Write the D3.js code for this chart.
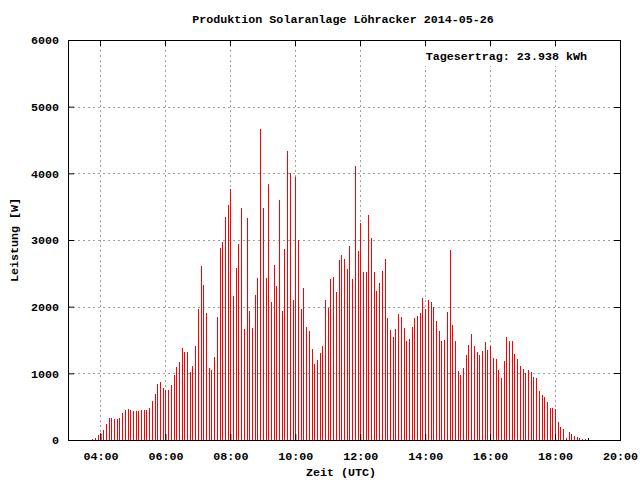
<!DOCTYPE html>
<html><head><meta charset="utf-8">
<script src="https://cdn.jsdelivr.net/npm/d3@7"></script>
<style>
body{margin:0;background:#fff;}
text{font-family:"Liberation Mono","DejaVu Sans Mono",monospace;font-weight:bold;font-size:11.7px;fill:#000;}
</style></head>
<body>
<svg id="chart" width="640" height="480"></svg>
<script>
const title = "Produktion Solaranlage Löhracker 2014-05-26";
const yLabel = "Leistung [W]";
const xLabel = "Zeit (UTC)";
const yieldLabel = "Tagesertrag: 23.938 kWh";
const xTicks = ["04:00","06:00","08:00","10:00","12:00","14:00","16:00","18:00","20:00"];
const yTicks = [0,1000,2000,3000,4000,5000,6000];
const times = [
"03:45","03:50","03:55",
"04:00","04:05","04:10","04:15","04:20","04:25","04:30","04:35","04:40","04:45","04:50","04:55",
"05:00","05:05","05:10","05:15","05:20","05:25","05:30","05:35","05:40","05:45","05:50","05:55",
"06:00","06:05","06:10","06:15","06:20","06:25","06:30","06:35","06:40","06:45","06:50","06:55",
"07:00","07:05","07:10","07:15","07:20","07:25","07:30","07:35","07:40","07:45","07:50","07:55",
"08:00","08:05","08:10","08:15","08:20","08:25","08:30","08:35","08:40","08:45","08:50","08:55",
"09:00","09:05","09:10","09:15","09:20","09:25","09:30","09:35","09:40","09:45","09:50","09:55",
"10:00","10:05","10:10","10:15","10:20","10:25","10:30","10:35","10:40","10:45","10:50","10:55",
"11:00","11:05","11:10","11:15","11:20","11:25","11:30","11:35","11:40","11:45","11:50","11:55",
"12:00","12:05","12:10","12:15","12:20","12:25","12:30","12:35","12:40","12:45","12:50","12:55",
"13:00","13:05","13:10","13:15","13:20","13:25","13:30","13:35","13:40","13:45","13:50","13:55",
"14:00","14:05","14:10","14:15","14:20","14:25","14:30","14:35","14:40","14:45","14:50","14:55",
"15:00","15:05","15:10","15:15","15:20","15:25","15:30","15:35","15:40","15:45","15:50","15:55",
"16:00","16:05","16:10","16:15","16:20","16:25","16:30","16:35","16:40","16:45","16:50","16:55",
"17:00","17:05","17:10","17:15","17:20","17:25","17:30","17:35","17:40","17:45","17:50","17:55",
"18:00","18:05","18:10","18:15","18:20","18:25","18:30","18:35","18:40","18:45","18:50","18:55",
"19:00"];
const power = [
15,35,75,
105,150,240,330,330,315,315,330,405,450,465,450,
435,435,435,455,455,455,485,590,695,845,875,785,
755,755,830,980,1100,1175,1385,1325,1325,1020,1110,1410,
1965,2615,2325,1905,1080,1050,1245,1845,2880,2970,3345,3525,
3765,2160,2580,2940,3480,1665,3330,1935,1680,2175,2430,4665,
3480,2430,3840,2070,2625,2310,3600,1935,2865,4335,4005,2100,
3945,3000,1965,2280,1695,1635,1365,1140,1200,1305,1410,2100,
1980,2415,2445,2220,2700,2775,2715,2565,2910,2415,4110,2835,
3255,2520,2520,3375,3030,2520,2235,2355,2535,2715,1830,1650,
1545,1665,1890,1845,1680,1485,1515,1695,1830,1860,1905,2130,
1965,2100,2070,1995,1785,1635,1485,1500,1920,2850,1725,1485,
1035,975,1080,1275,1425,1590,1410,1320,1275,1335,1470,1350,
1410,1230,1215,1050,930,1185,1545,1485,1485,1290,1215,1110,
1065,1005,1050,1020,945,930,735,675,645,570,480,480,
465,270,195,165,30,120,90,60,45,30,15,15,
30];

const parse = d3.timeParse("%H:%M");
const fmt = d3.timeFormat("%H:%M");
const data = times.map((t,i)=>({t:parse(t), v:power[i]}));

const svg = d3.select("#chart");
const L=68, R=620, T=40, B=440;
const x = d3.scaleTime().domain([parse("03:00"), parse("20:00")]).range([L,R]);
const y = d3.scaleLinear().domain([0,6000]).range([B,T]);

// grid
const grid = svg.append("g").attr("stroke","#a0a0a0").attr("stroke-width",1).attr("stroke-dasharray","2,3");
xTicks.map(parse).filter(t=>x(t)<R-1).forEach(t=>{
  grid.append("line").attr("x1",Math.round(x(t))+0.5).attr("x2",Math.round(x(t))+0.5).attr("y1",T).attr("y2",B);
});
yTicks.filter(v=>v>0&&v<6000).forEach(v=>{
  grid.append("line").attr("x1",L).attr("x2",R).attr("y1",Math.round(y(v))+0.5).attr("y2",Math.round(y(v))+0.5);
});

// yield label background
svg.append("rect").attr("x",421).attr("y",48).attr("width",170).attr("height",18).attr("fill","#fff");
svg.append("text").attr("x",587).attr("y",60).attr("text-anchor","end").text(yieldLabel);

// bars
svg.append("g").selectAll("rect").data(data).join("rect")
  .attr("x",d=>Math.round(x(d.t)))
  .attr("width",1)
  .attr("y",d=>Math.round(y(d.v)))
  .attr("height",d=>B-Math.round(y(d.v)))
  .attr("fill",(d,i)=>i===data.length-1?"#000":"#ff0000");

// axes
const xAxis = d3.axisBottom(x).tickValues(xTicks.map(parse)).tickFormat(fmt).tickSizeInner(-6).tickSizeOuter(0).tickPadding(12);
const gx = svg.append("g").attr("transform",`translate(0,${B})`).call(xAxis);
const yAxis = d3.axisLeft(y).tickValues(yTicks).tickFormat(d3.format("d")).tickSizeInner(-6).tickSizeOuter(0).tickPadding(9);
const gy = svg.append("g").attr("transform",`translate(${L},0)`).call(yAxis);
[gx,gy].forEach(g=>{
  g.select(".domain").remove();
  g.selectAll("text").attr("font-family",null).attr("font-size",null).style("fill","#000");
  g.selectAll("line").attr("stroke","#000");
});
// mirrored ticks
const mir = svg.append("g").attr("stroke","#000");
xTicks.map(parse).forEach(t=>{
  const xx=Math.round(x(t))+0.5;
  mir.append("line").attr("x1",xx).attr("x2",xx).attr("y1",T).attr("y2",T+6);
});
yTicks.forEach(v=>{
  const yy=Math.round(y(v))+0.5;
  mir.append("line").attr("x1",R).attr("x2",R-6).attr("y1",yy).attr("y2",yy);
});
// border
svg.append("rect").attr("x",L+0.5).attr("y",T+0.5).attr("width",R-L).attr("height",B-T)
  .attr("fill","none").attr("stroke","#000");

svg.append("text").attr("x",343).attr("y",23).attr("text-anchor","middle").text(title);
svg.append("text").attr("x",341).attr("y",476).attr("text-anchor","middle").text(xLabel);
svg.append("text").attr("transform","translate(18,240) rotate(-90)").attr("text-anchor","middle").text(yLabel);
</script>
</body></html>
